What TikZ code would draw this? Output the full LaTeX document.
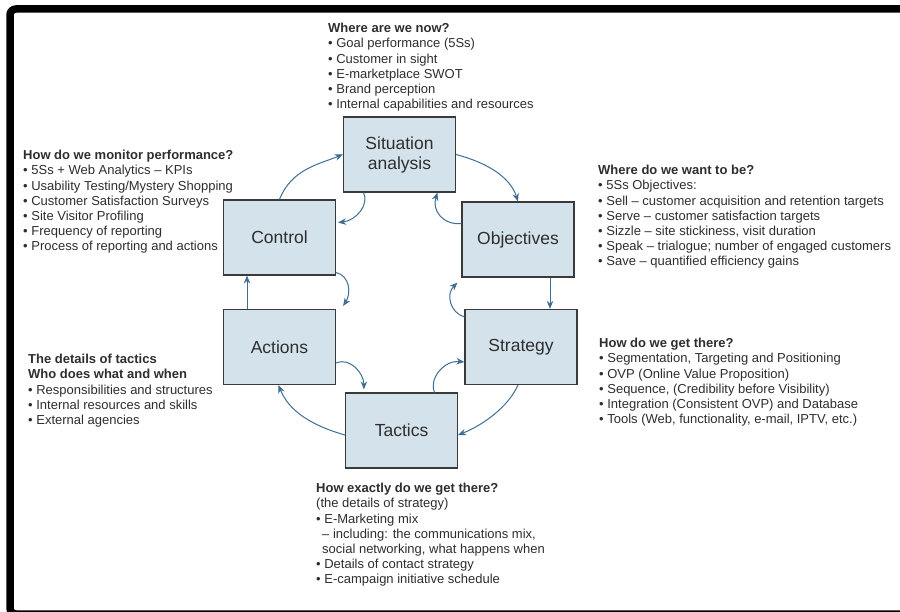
\documentclass[tikz,border=0pt]{standalone}
\usepackage{fontspec}
\setmainfont{Liberation Sans}
\usetikzlibrary{arrows.meta,calc}
\definecolor{boxfill}{HTML}{D4E2EB}
\definecolor{boxline}{HTML}{3A3A3A}
\definecolor{arr}{HTML}{3E6E92}
\definecolor{txt}{HTML}{2E2E2E}
\begin{document}
\begin{tikzpicture}[x=1pt,y=-1pt,
  stage/.style={draw=boxline, fill=boxfill, line width=1.2pt, minimum width=112pt,
    minimum height=75pt, inner sep=0pt, font=\fontsize{17.5}{20}\selectfont, text=txt, align=center},
  flow/.style={draw=arr, line width=1pt, -{Stealth[length=8pt,width=6.5pt]}},
  info/.style={anchor=north west, inner sep=0pt, align=left,
    font=\fontsize{13}{15.2}\selectfont, text=txt}]
\useasboundingbox (0,0) rectangle (900,612);
\fill[white] (0,0) rectangle (900,612);
\draw[line width=7.5pt, rounded corners=6pt] (10,9) rectangle (940,614);

% stages
\node[stage] (Situation) at (399.5,154.5) {Situation\\analysis};
\node[stage] (Control) at (279.5,237.5) {Control};
\node[stage] (Objectives) at (518,239.5) {Objectives};
\node[stage] (Actions) at (279.5,347) {Actions};
\node[stage] (Strategy) at (521,347) {Strategy};
\node[stage] (Tactics) at (401.5,430.5) {Tactics};

% text blocks
\node[info] (topinfo) at (328,23) {\textbf{Where are we now?}\\
• Goal performance (5Ss)\\
• Customer in sight\\
• E-marketplace SWOT\\
• Brand perception\\
• Internal capabilities and resources};

\node[info] (monitor) at (23,150) {\textbf{How do we monitor performance?}\\
• 5Ss + Web Analytics – KPIs\\
• Usability Testing/Mystery Shopping\\
• Customer Satisfaction Surveys\\
• Site Visitor Profiling\\
• Frequency of reporting\\
• Process of reporting and actions};

\node[info] (want) at (598,165) {\textbf{Where do we want to be?}\\
• 5Ss Objectives:\\
• Sell – customer acquisition and retention targets\\
• Serve – customer satisfaction targets\\
• Sizzle – site stickiness, visit duration\\
• Speak – trialogue; number of engaged customers\\
• Save – quantified efficiency gains};

\node[info] (getthere) at (599,338) {\textbf{How do we get there?}\\
• Segmentation, Targeting and Positioning\\
• OVP (Online Value Proposition)\\
• Sequence, (Credibility before Visibility)\\
• Integration (Consistent OVP) and Database\\
• Tools (Web, functionality, e-mail, IPTV, etc.)};

\node[info] (tacticsinfo) at (28,354) {\textbf{The details of tactics}\\
\textbf{Who does what and when}\\
• Responsibilities and structures\\
• Internal resources and skills\\
• External agencies};

\node[info] (exactly) at (316,483) {\textbf{How exactly do we get there?}\\
(the details of strategy)\\
• E-Marketing mix\\
\hspace*{6pt}– including: the communications mix,\\
\hspace*{6pt}social networking, what happens when\\
• Details of contact strategy\\
• E-campaign initiative schedule};

% connectors
\draw[flow] (Control.north) .. controls +(12,-30) and +(-25,10) .. (Situation.west);
\draw[flow] (Situation.east) .. controls +(30,8) and +(-8,-25) .. (Objectives.north);
\draw[flow] ($(Situation.south)+(-36,0)$) .. controls +(6,12) and +(18,-2) .. ($(Control.east)+(2,-15)$);
\draw[flow] ($(Objectives.west)+(0,-16)$) .. controls +(-18,2) and +(-6,18) .. ($(Situation.south)+(38,0)$);
\coordinate (o5) at ($(Objectives.south)+(32,0)$);
\draw[flow] (o5) -- (o5 |- Strategy.north);
\draw[flow] ($(Control.south east)+(0,-3)$) .. controls +(14,3) and +(8,-12) .. ($(Actions.north east)+(7,-3)$);
\coordinate (a7) at ($(Actions.north)+(-32.5,0)$);
\draw[flow] (a7) -- (a7 |- Control.south);
\draw[flow] ($(Strategy.north west)+(0,8)$) .. controls +(-14,-4) and +(-12,12) .. ($(Objectives.south west)+(-4,5)$);
\draw[flow] ($(Actions.east)+(0,16)$) .. controls +(14,-6) and +(0,-16) .. ($(Tactics.north west)+(19,-3)$);
\draw[flow] ($(Tactics.north)+(33,0)$) .. controls +(-6,-14) and +(-20,-2) .. ($(Strategy.west)+(0,15)$);
\draw[flow] ($(Strategy.south)+(-3,0)$) .. controls +(-10,22) and +(25,-10) .. ($(Tactics.east)+(0,4.5)$);
\draw[flow] ($(Tactics.west)+(0,4.5)$) .. controls +(-35,-10) and +(10,25) .. ($(Actions.south)+(-1,0)$);
\end{tikzpicture}
\end{document}
